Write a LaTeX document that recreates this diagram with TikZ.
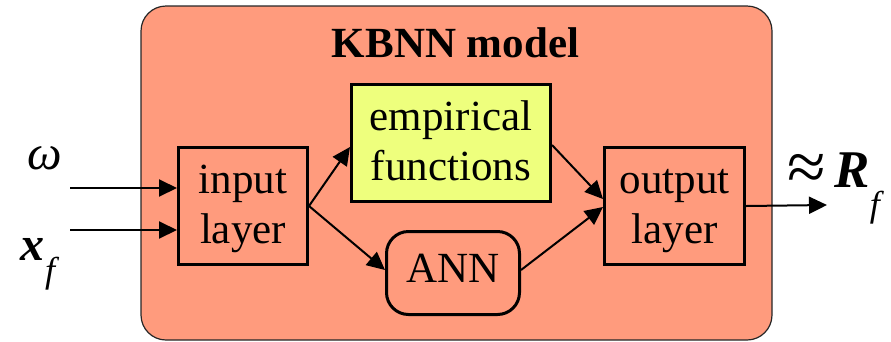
\documentclass[tikz,border=0pt]{standalone}
\usepackage{fontspec}
\setmainfont{Liberation Serif}[
  UprightFont={Liberation Serif},
  BoldFont={Liberation Serif Bold},
  ItalicFont={Liberation Serif Italic},
  BoldItalicFont={Liberation Serif Bold Italic}]
\usetikzlibrary{arrows.meta,calc}

\definecolor{salmon}{RGB}{255,155,125}
\definecolor{paleyellow}{RGB}{238,255,125}

\tikzset{
  blockbox/.style={draw=black, line width=3pt, inner sep=0pt, align=center,
    font=\rmfamily\fontsize{43}{50}\selectfont},
  % baseline of a two-line node is its last line
  twoline/.style={text height=80pt, text depth=6pt},
  flow/.style={line width=2pt, -{Triangle[length=18pt,width=17pt]}},
  mathlabel/.style={inner sep=0pt, anchor=base},
}

\begin{document}
\begin{tikzpicture}[x=1pt,y=-1pt]
  \useasboundingbox (0,0) rectangle (891,341);

  % enclosing model box
  \draw[fill=salmon, draw=black!85, line width=1.2pt, rounded corners=25pt]
    (141,6) rectangle (772,340);
  \node[mathlabel, font=\rmfamily\fontsize{43}{50}\selectfont\bfseries] (title) at (455.5,57) {KBNN model};

  % blocks
  \node[blockbox, twoline, minimum width=129pt, minimum height=117pt] (input) at (243,206) {input\\layer};
  \node[blockbox, twoline, fill=paleyellow, minimum width=199pt, minimum height=117pt] (emp) at (451,143) {empirical\\functions};
  \node[blockbox, rounded corners=22pt, text height=30pt, text depth=12pt,
        minimum width=133pt, minimum height=83pt] (ann) at (453,273) {ANN};
  \node[blockbox, twoline, minimum width=140pt, minimum height=117pt] (output) at (674.5,206) {output\\layer};

  % external inputs and output
  \node[mathlabel, font=\rmfamily\fontsize{49}{50}\selectfont\itshape] (omega) at (44.5,169) {ω};
  \node[mathlabel, anchor=base west, font=\rmfamily\fontsize{48}{50}\selectfont] (xf) at (20,260)
    {{\bfseries\itshape x}\hspace{1pt}\raisebox{-22pt}{\fontsize{36}{36}\selectfont\itshape f}};
  \node[mathlabel, anchor=base west, font=\rmfamily\fontsize{53}{54}\selectfont] (rf) at (787,187)
    {\raisebox{-3pt}{\fontsize{70}{70}\selectfont ≈}\hspace{9pt}{\bfseries\itshape R}\raisebox{-29pt}{\fontsize{36}{36}\selectfont\itshape f}};

  \coordinate (win) at (70,188);
  \coordinate (xin) at (70,230);
  \coordinate (rout) at (827,205);

  % connectors
  \draw[flow] (win) -- (input.west |- win);
  \draw[flow] (xin) -- (input.west |- xin);
  \draw[flow] (input.east) -- ([yshift=-4pt]emp.west);
  \draw[flow] (input.east) -- ([yshift=3pt]ann.west);
  \draw[flow] ([yshift=-2pt]emp.east) -- ([yshift=7pt]output.west);
  \draw[flow] ([yshift=3pt]ann.east) -- ([yshift=-1pt]output.west);
  \draw[flow] (output.east) -- (rout);
\end{tikzpicture}
\end{document}
